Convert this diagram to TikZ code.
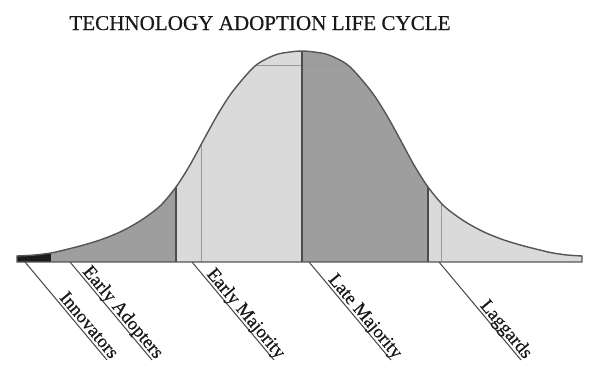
\documentclass[tikz,border=0pt]{standalone}
\usepackage{fontspec}
\setmainfont{Liberation Serif}
\newfontfamily\headfont[FakeBold=0.5]{Liberation Serif}
\definecolor{lightfill}{HTML}{DADADA}
\definecolor{darkfill}{HTML}{9E9E9E}
\definecolor{innofill}{HTML}{1C1C1C}
\definecolor{edgegray}{HTML}{555555}
\tikzset{
    heading/.style={font=\headfont\fontsize{12}{14}\selectfont, text=black!90, inner sep=0pt, anchor=base},
    tag/.style={font=\headfont\fontsize{10.7}{12}\selectfont, text=black!90, rotate=-50, inner sep=0pt, outer sep=0pt, anchor=base east},
    leader/.style={draw=black!70, line width=0.6pt},
    divider/.style={draw=black!70, line width=0.6pt},
    faint/.style={draw=black!40, line width=0.4pt}
}
\begin{document}
\begin{tikzpicture}[x=0.02cm,y=-0.02cm]
    \useasboundingbox (0,0) rectangle (600,373);
    \node[heading] (title) at (260,30) {TECHNOLOGY ADOPTION LIFE CYCLE};
    % bell curve with the strip under it
    \path[save path=\bell] (17,262) -- plot[smooth] coordinates {(17,256) (35,255) (51,253) (60,251) (80,246) (100,240) (120,232) (140,221) (160,206) (176,187) (190,165) (203,141) (218,114) (233,91) (255,66) (275,55) (290,52) (302,51) (314,52) (329,55) (349,66) (371,91) (386,114) (401,141) (414,165) (428,187) (444,206) (464,221) (484,232) (504,240) (524,246) (544,251) (553,253) (567,255) (582,256)} -- (582,262) -- cycle;
    \begin{scope}
        \clip[use path=\bell];
        \fill[lightfill] (17,0) rectangle (582,262);
        \fill[innofill] (17,0) rectangle (51,262);
        \fill[darkfill] (51,0) rectangle (176,262);
        \fill[darkfill] (302,0) rectangle (428,262);
        \draw[faint] (201,0) -- (201,262);
        \draw[faint] (441,0) -- (441,262);
        \draw[faint] (200,65) -- (400,65);
        \draw[divider] (176,0) -- (176,262);
        \draw[divider] (302,0) -- (302,262);
        \draw[divider] (428,0) -- (428,262);
    \end{scope}
    \draw[edgegray, line width=0.8pt, use path=\bell];
    % leaders and labels
    \coordinate (inno-s) at (25,262);
    \coordinate (inno-e) at (107,360);
    \coordinate (adop-s) at (70,262);
    \coordinate (adop-e) at (152,360);
    \coordinate (emaj-s) at (192,262);
    \coordinate (emaj-e) at (274,360);
    \coordinate (lmaj-s) at (309,262);
    \coordinate (lmaj-e) at (391,360);
    \coordinate (lagg-s) at (439,262);
    \coordinate (lagg-e) at (521,360);
    \draw[leader] (inno-s) -- (inno-e);
    \draw[leader] (adop-s) -- (adop-e);
    \draw[leader] (emaj-s) -- (emaj-e);
    \draw[leader] (lmaj-s) -- (lmaj-e);
    \draw[leader] (lagg-s) -- (lagg-e);
    \node[tag] (inno) at ([shift={(3.6,-0.4)}]inno-e) {Innovators};
    \node[tag] (adop) at ([shift={(3.6,-0.4)}]adop-e) {Early Adopters};
    \node[tag] (emaj) at ([shift={(3.6,-0.4)}]emaj-e) {Early Majority};
    \node[tag] (lmaj) at ([shift={(3.6,-0.4)}]lmaj-e) {Late Majority};
    \node[tag] (lagg) at ([shift={(3.6,-0.4)}]lagg-e) {Laggards};
\end{tikzpicture}
\end{document}
